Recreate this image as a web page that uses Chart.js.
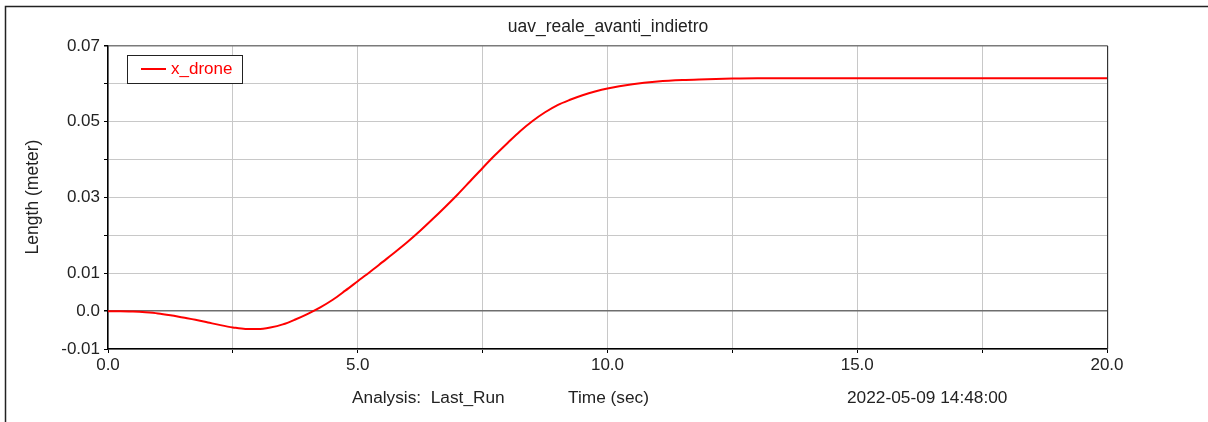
<!DOCTYPE html>
<html>
<head>
<meta charset="utf-8">
<script src="https://cdn.jsdelivr.net/npm/chart.js@4.4.1/dist/chart.umd.min.js"></script>
<style>
  html, body { margin: 0; padding: 0; background: #fff; }
  #wrap { position: relative; width: 1208px; height: 422px; }
</style>
</head>
<body>
<div id="wrap"><canvas id="c" width="1208" height="422"></canvas></div>
<script>
// ---- data ----
const timeSec = [0, 0.25, 0.5, 0.75, 1.0, 1.25, 1.5, 1.75, 2.0, 2.25, 2.5, 2.75, 3.0, 3.25, 3.5, 3.75, 4.0, 4.25, 4.5, 4.75, 5.0, 5.25, 5.5, 5.75, 6.0, 6.25, 6.5, 6.75, 7.0, 7.25, 7.5, 7.75, 8.0, 8.25, 8.5, 8.75, 9.0, 9.25, 9.5, 9.75, 10.0, 10.5, 11.0, 11.5, 12.0, 12.5, 13.0, 14.0, 15.0, 16.0, 17.0, 18.0, 19.0, 20.0];
const xDrone  = [0, 0, -0.0001, -0.0003, -0.0006, -0.0011, -0.0017, -0.0023, -0.0030, -0.0037, -0.0043, -0.0047, -0.0047, -0.0043, -0.0035, -0.0022, -0.0007, 0.0010, 0.0030, 0.0054, 0.0079, 0.0104, 0.0130, 0.0156, 0.0183, 0.0212, 0.0243, 0.0275, 0.0308, 0.0343, 0.0378, 0.0412, 0.0444, 0.0475, 0.0502, 0.0525, 0.0544, 0.0558, 0.0570, 0.0580, 0.0588, 0.0599, 0.0606, 0.0610, 0.0612, 0.0614, 0.0615, 0.0615, 0.0615, 0.0615, 0.0615, 0.0615, 0.0615, 0.0615];
const xLabels = [0, 5, 10, 15, 20];
const yLabels = [0.07, 0.05, 0.03, 0.01, 0.0, -0.01];
const seriesName = "x_drone";
const chartTitle = "uav_reale_avanti_indietro";
const yTitle = "Length (meter)";
const footerAnalysis = "Analysis:  Last_Run";
const footerX = "Time (sec)";
const footerDate = "2022-05-09 14:48:00";

const FONT = "'Liberation Sans', Arial, sans-serif";

const points = timeSec.map((t, i) => ({ x: t, y: xDrone[i] }));

function near(a, b) { return Math.abs(a - b) < 1e-9; }

const decor = {
  id: 'decor',
  beforeDraw(chart) {
    const ctx = chart.ctx;
    ctx.save();
    ctx.fillStyle = '#fff';
    ctx.fillRect(0, 0, chart.width, chart.height);
    ctx.restore();
  },
  afterDraw(chart) {
    const ctx = chart.ctx;
    const a = chart.chartArea;
    ctx.save();
    // outer frame (top + left)
    ctx.strokeStyle = '#222';
    ctx.lineWidth = 1.5;
    ctx.beginPath();
    ctx.moveTo(5.5, chart.height);
    ctx.lineTo(5.5, 6.5);
    ctx.lineTo(chart.width, 6.5);
    ctx.stroke();
    // right plot border with light shadow
    ctx.strokeStyle = '#dcdcdc';
    ctx.lineWidth = 1;
    ctx.beginPath();
    ctx.moveTo(a.right + 1.5, a.top);
    ctx.lineTo(a.right + 1.5, a.bottom);
    ctx.stroke();
    ctx.strokeStyle = '#333';
    ctx.lineWidth = 1;
    ctx.beginPath();
    ctx.moveTo(a.right + 0.5, a.top - 0.5);
    ctx.lineTo(a.right + 0.5, a.bottom);
    ctx.stroke();
    // title
    ctx.fillStyle = '#222';
    ctx.textAlign = 'center';
    ctx.textBaseline = 'middle';
    ctx.font = '17.5px ' + FONT;
    ctx.fillText(chartTitle, 608, 27);
    // y title
    ctx.save();
    ctx.translate(33, 197);
    ctx.rotate(-Math.PI / 2);
    ctx.font = '17.5px ' + FONT;
    ctx.fillText(yTitle, 0, 0);
    ctx.restore();
    // footer
    ctx.font = '17.3px ' + FONT;
    ctx.textAlign = 'left';
    ctx.fillText(footerAnalysis, 352, 398);
    ctx.fillText(footerX, 568, 398);
    ctx.fillText(footerDate, 847, 398);
    // legend
    ctx.fillStyle = '#fff';
    ctx.fillRect(127.5, 55.5, 115, 28);
    ctx.strokeStyle = '#222';
    ctx.lineWidth = 1;
    ctx.strokeRect(127.5, 55.5, 115, 28);
    ctx.strokeStyle = '#ff0000';
    ctx.lineWidth = 2;
    ctx.beginPath();
    ctx.moveTo(141, 69);
    ctx.lineTo(166, 69);
    ctx.stroke();
    ctx.fillStyle = '#ff0000';
    ctx.font = '17px ' + FONT;
    ctx.textAlign = 'left';
    ctx.fillText(seriesName, 171, 69);
    ctx.restore();
  }
};

new Chart(document.getElementById('c'), {
  type: 'line',
  data: {
    datasets: [{
      label: seriesName,
      data: points,
      borderColor: '#ff0000',
      backgroundColor: '#ff0000',
      borderWidth: 2,
      pointRadius: 0,
      cubicInterpolationMode: 'monotone',
      fill: false
    }]
  },
  options: {
    responsive: false,
    animation: false,
    events: [],
    layout: { padding: { top: 46, right: 101, left: 0, bottom: 0 } },
    plugins: {
      legend: { display: false },
      title: { display: false },
      tooltip: { enabled: false }
    },
    scales: {
      x: {
        type: 'linear',
        min: 0, max: 20,
        afterFit(s) { s.height = 73; },
        afterBuildTicks(s) {
          const t = [];
          for (let v = 0; v <= 20 + 1e-9; v += 2.5) t.push({ value: v });
          s.ticks = t;
        },
        ticks: {
          autoSkip: false,
          maxRotation: 0,
          padding: 2,
          color: '#222',
          font: { family: FONT, size: 17 },
          callback(v) { return xLabels.some(l => near(l, v)) ? Number(v).toFixed(1) : ''; }
        },
        grid: {
          color: '#c8c8c8',
          lineWidth: 1,
          tickLength: 4,
          tickColor: '#000',
          drawTicks: true
        },
        border: { display: true, color: '#000', width: 1.5 }
      },
      y: {
        type: 'linear',
        min: -0.01, max: 0.07,
        afterFit(s) { s.width = 108; },
        afterBuildTicks(s) {
          const t = [];
          for (let i = -1; i <= 7; i++) t.push({ value: i / 100 });
          s.ticks = t;
        },
        ticks: {
          autoSkip: false,
          padding: 4,
          color: '#222',
          font: { family: FONT, size: 17 },
          callback(v) {
            const hit = yLabels.find(l => near(l, v));
            if (hit === undefined) return '';
            return near(hit, 0) ? '0.0' : hit.toFixed(2);
          }
        },
        grid: {
          color(ctx) {
            const v = ctx.tick ? ctx.tick.value : null;
            if (v !== null && near(v, 0)) return '#6e6e6e';
            if (v !== null && near(v, 0.07)) return '#7a7a7a';
            return '#c8c8c8';
          },
          lineWidth(ctx) {
            const v = ctx.tick ? ctx.tick.value : null;
            if (v !== null && (near(v, 0) || near(v, 0.07))) return 1.5;
            return 1;
          },
          tickLength: 4,
          tickColor: '#000',
          drawTicks: true
        },
        border: { display: true, color: '#000', width: 1.5 }
      }
    }
  },
  plugins: [decor]
});
</script>
</body>
</html>
